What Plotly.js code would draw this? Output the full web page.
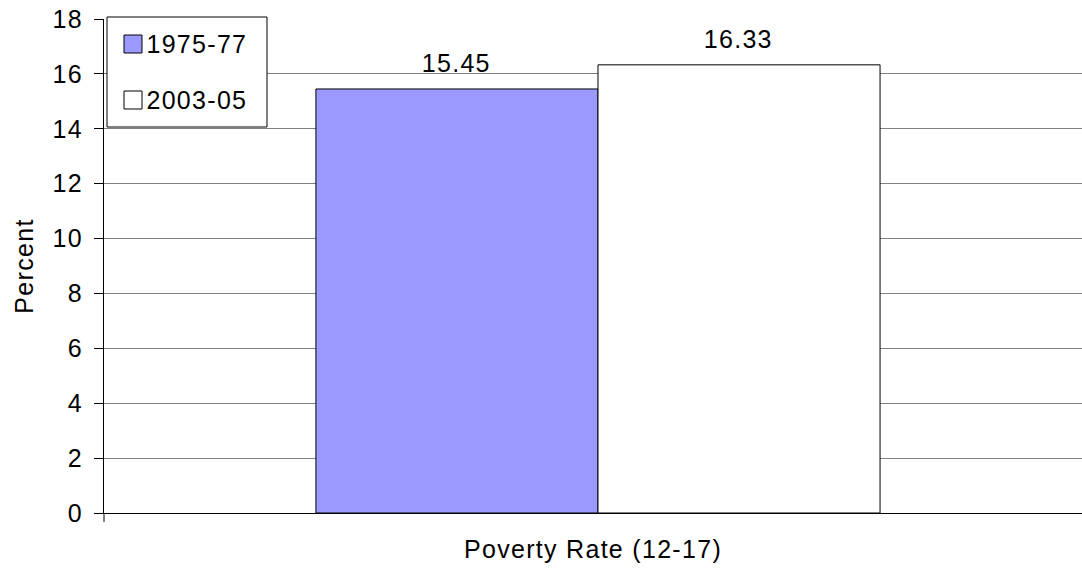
<!DOCTYPE html>
<html><head><meta charset="utf-8">
<script src="https://cdn.plot.ly/plotly-3.0.1.min.js"></script>
<style>
html,body{margin:0;padding:0;background:#fff;}
#chart .main-svg text{letter-spacing:1.3px;}
</style>
</head><body>
<div id="chart" style="width:1082px;height:568px;"></div>
<script>
const categories = ["Poverty Rate (12-17)"];
const seriesNames = ["1975-77", "2003-05"];
const seriesColors = ["#9999FF", "#FFFFFF"];
const values1975 = [15.45];
const values2003 = [16.33];
const yTicks = [0, 2, 4, 6, 8, 10, 12, 14, 16, 18];

const font = "Liberation Sans, Arial, Helvetica, sans-serif";
const fs = 25;
const W = 1082, H = 568, ML = 104, MR = 0, MT = 19, MB = 55;
const PW = W - ML - MR, PH = H - MT - MB;
const px = v => (v - ML) / PW;           // pixel -> paper x
const py = v => (H - MB - v) / PH;       // pixel -> paper y

const traces = [
  {type: "bar", name: seriesNames[0], x: categories, y: values1975, showlegend: false,
   marker: {color: seriesColors[0], line: {color: "#000", width: 1}}},
  {type: "bar", name: seriesNames[1], x: categories, y: values2003, showlegend: false,
   marker: {color: seriesColors[1], line: {color: "#000", width: 1}}}
];
const barHalfPx = 141;
const annotations = [
  {x: categories[0], y: values1975[0], text: values1975[0].toFixed(2), xshift: -barHalfPx},
  {x: categories[0], y: values2003[0], text: values2003[0].toFixed(2), xshift: barHalfPx}
].map(a => Object.assign(a, {xref: "x", yref: "y", showarrow: false, yanchor: "bottom",
  yshift: 10, font: {family: font, size: fs, color: "#000"}}));

// custom legend (box, swatches, labels)
const legendRows = [44, 100];
const shapes = [
  {type: "line", xref: "paper", yref: "paper", x0: 0, x1: 0, y0: 0, y1: -0.018,
   line: {color: "#000", width: 1}},
  {type: "rect", xref: "paper", yref: "paper", x0: px(107), x1: px(267), y0: py(17), y1: py(127),
   fillcolor: "#fff", line: {color: "#000", width: 1}, layer: "above"}
];
seriesNames.forEach((n, i) => {
  const cy = legendRows[i];
  shapes.push({type: "rect", xref: "paper", yref: "paper", x0: px(124), x1: px(142),
    y0: py(cy + 9), y1: py(cy - 9), fillcolor: seriesColors[i],
    line: {color: "#000", width: 1}, layer: "above"});
  annotations.push({xref: "paper", yref: "paper", x: px(149), y: py(cy), xanchor: "left",
    yanchor: "middle", showarrow: false, text: n, font: {family: font, size: fs, color: "#000"}});
});

const layout = {
  width: W, height: H,
  margin: {l: ML, r: MR, t: MT, b: MB},
  paper_bgcolor: "#fff", plot_bgcolor: "#fff",
  font: {family: font, size: fs, color: "#000"},
  barmode: "group", bargap: 0.429, bargroupgap: 0,
  showlegend: false,
  annotations: annotations,
  shapes: shapes,
  xaxis: {type: "category", range: [-0.5, 0.4899], showticklabels: false,
    showline: true, linecolor: "#000", linewidth: 1, showgrid: false, ticks: "",
    title: {text: categories[0], font: {family: font, size: fs, color: "#000"}, standoff: 27},
    automargin: false},
  yaxis: {range: [0, 18], tickvals: yTicks, ticktext: yTicks.map(String),
    showline: true, linecolor: "#000", linewidth: 1, ticks: "outside", ticklen: 9,
    tickcolor: "#000", showgrid: true, gridcolor: "#808080", gridwidth: 1,
    zeroline: false, ticklabelstandoff: 6,
    tickfont: {family: font, size: fs, color: "#000"},
    title: {text: "Percent", font: {family: font, size: fs, color: "#000"}, standoff: 14},
    automargin: false}
};
Plotly.newPlot("chart", traces, layout, {displayModeBar: false, staticPlot: true});
</script>
</body></html>
